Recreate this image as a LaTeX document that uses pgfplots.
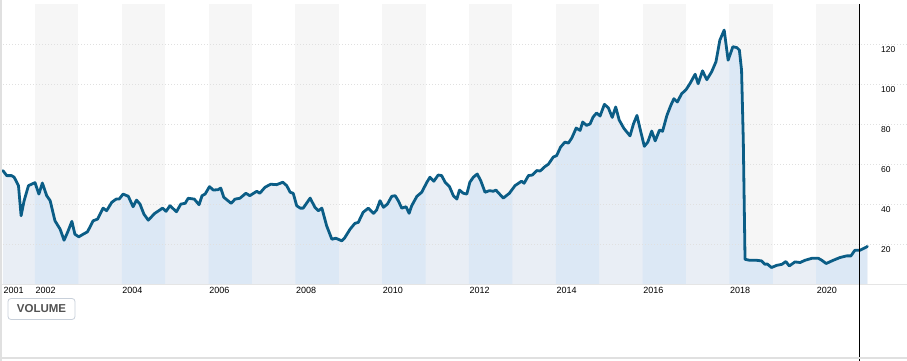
\documentclass[border=0pt]{standalone}
\usepackage{fontspec}
\setmainfont{Liberation Sans}
\usepackage{pgfplots}
\usepackage{pgfplotstable}
\pgfplotsset{compat=1.18}
\usepgfplotslibrary{fillbetween}
\definecolor{linec}{HTML}{0B5D86}
\definecolor{evenblue}{HTML}{DCE8F5}
\definecolor{oddblue}{HTML}{E9EEF5}
\definecolor{topgray}{HTML}{F6F6F6}
\definecolor{gridc}{HTML}{E0E0E0}
\definecolor{btnborder}{HTML}{C8D0DA}

\pgfplotstableread{
year value
2001.26 57
2001.35 54.5
2001.46 54.5
2001.52 53.7
2001.62 49.5
2001.68 34.5
2001.75 42
2001.85 49.5
2002.00 51
2002.09 45.3
2002.17 50.8
2002.27 44.5
2002.35 42
2002.46 32
2002.58 27.8
2002.67 22.3
2002.75 26.2
2002.85 31.7
2002.92 25.3
2003.01 24
2003.11 25.3
2003.21 26.5
2003.34 32
2003.44 32.8
2003.57 38.3
2003.65 37
2003.77 41.2
2003.87 42.8
2003.94 42.8
2004.03 45.3
2004.15 44.2
2004.26 39
2004.34 42.3
2004.42 40.3
2004.51 35.3
2004.61 32.3
2004.76 35.7
2004.94 38.3
2005.02 36.7
2005.11 39.5
2005.26 36.5
2005.36 40.3
2005.46 40.7
2005.53 43.2
2005.67 42.8
2005.78 40
2005.85 44.5
2005.92 45.3
2006.02 49
2006.11 47.3
2006.22 47.5
2006.28 48.3
2006.35 43.7
2006.52 40.7
2006.61 42.8
2006.72 43.2
2006.86 45.7
2006.95 44.5
2007.11 46.7
2007.18 45.7
2007.30 48.7
2007.43 50.2
2007.57 50
2007.71 51.2
2007.80 49.5
2007.88 46.2
2007.95 45.7
2008.03 39.5
2008.11 38.3
2008.18 38.3
2008.34 43.3
2008.45 38.7
2008.53 37
2008.61 38.3
2008.72 29.5
2008.84 22.8
2008.93 23.3
2009.07 22
2009.13 23.3
2009.26 27.8
2009.37 30.7
2009.45 31.2
2009.56 36.2
2009.68 38.3
2009.80 35.7
2009.87 37.3
2009.95 42
2010.03 38.7
2010.12 40.3
2010.22 44.2
2010.30 44.5
2010.37 42
2010.45 38.3
2010.55 39
2010.62 35.7
2010.68 39.5
2010.80 44.2
2010.91 46.2
2011.03 51.2
2011.10 53.7
2011.19 51.7
2011.29 54.8
2011.37 54.5
2011.45 51.2
2011.55 49
2011.64 44.5
2011.72 42.8
2011.78 47.3
2011.87 45.7
2011.95 45.3
2012.02 51.2
2012.10 53.7
2012.19 55.3
2012.27 52
2012.37 46.2
2012.47 47
2012.56 46.7
2012.62 47.3
2012.79 43.3
2012.93 45.7
2013.06 49.5
2013.21 51.7
2013.27 50.7
2013.37 54.5
2013.46 54.8
2013.56 57
2013.64 56.8
2013.75 59
2013.83 60.2
2013.94 63.7
2014.02 64.5
2014.11 68.7
2014.21 71.2
2014.29 70.7
2014.37 73.3
2014.47 78.2
2014.56 77
2014.62 81.2
2014.71 79.5
2014.79 80.3
2014.86 83.7
2014.94 85.7
2015.02 84.2
2015.12 90
2015.21 88.3
2015.30 83.5
2015.38 88.7
2015.46 82.2
2015.57 78
2015.71 74.3
2015.79 80.3
2015.87 84.5
2015.94 78
2016.04 69.1
2016.12 71.2
2016.21 76.7
2016.29 71.8
2016.39 77.2
2016.46 76.6
2016.56 84.5
2016.65 89.5
2016.72 92.8
2016.80 91.2
2016.90 95.3
2017.00 97.3
2017.09 100.3
2017.21 105
2017.28 100.3
2017.38 106.7
2017.48 102.3
2017.59 106.2
2017.69 111.2
2017.78 122
2017.88 127
2017.97 112
2018.08 118.7
2018.17 118.3
2018.23 117
2018.28 107
2018.32 72
2018.36 12.8
2018.47 12.3
2018.63 12.3
2018.74 12
2018.82 10.3
2018.87 10.5
2018.97 8.7
2019.09 9.8
2019.21 10.3
2019.30 11.7
2019.38 9.5
2019.51 11.5
2019.63 11.2
2019.74 12.3
2019.90 13.3
2020.05 13.3
2020.13 12.3
2020.23 10.7
2020.39 12.3
2020.55 13.7
2020.70 14.5
2020.80 14.5
2020.89 17.3
2021.01 17.3
2021.09 18.2
2021.18 19.2
}\datatable

\begin{document}
\begin{tikzpicture}[x=1pt,y=1pt]
\begin{axis}[
  at={(0,0)}, anchor=south west,
  scale only axis, width=907pt, height=281pt,
  xmin=2001.194, xmax=2022.092, ymin=0, ymax=140,
  clip=false,
  axis line style={draw=none},
  tick style={draw=none},
  major tick length=0pt,
  xtick={2001.26,2002,2004,2006,2008,2010,2012,2014,2016,2018,2020},
  xticklabels={2001,2002,2004,2006,2008,2010,2012,2014,2016,2018,2020},
  xticklabel style={anchor=north west, inner sep=0pt, yshift=-2.5pt, xshift=0.5pt, font=\fontsize{9}{10}\selectfont},
  ytick={20,40,60,80,100,120},
  yticklabel pos=right,
  yticklabel style={anchor=north west, inner sep=0pt, xshift=-26pt, yshift=-2pt, font=\fontsize{8.5}{10}\selectfont},
  /pgf/number format/assume math mode=true,
]
% top bands (even years)
\fill[topgray] (axis cs:2002,0) rectangle (axis cs:2003,140);
\fill[topgray] (axis cs:2004,0) rectangle (axis cs:2005,140);
\fill[topgray] (axis cs:2006,0) rectangle (axis cs:2007,140);
\fill[topgray] (axis cs:2008,0) rectangle (axis cs:2009,140);
\fill[topgray] (axis cs:2010,0) rectangle (axis cs:2011,140);
\fill[topgray] (axis cs:2012,0) rectangle (axis cs:2013,140);
\fill[topgray] (axis cs:2014,0) rectangle (axis cs:2015,140);
\fill[topgray] (axis cs:2016,0) rectangle (axis cs:2017,140);
\fill[topgray] (axis cs:2018,0) rectangle (axis cs:2019,140);
\fill[topgray] (axis cs:2020,0) rectangle (axis cs:2021,140);

\addplot[name path=curve, draw=none, forget plot] table[x=year,y=value]{\datatable};
\addplot[name path=base, draw=none, forget plot] coordinates {(2001.26,0) (2021.18,0)};
\addplot[fill=oddblue, draw=none] fill between[of=curve and base, on layer=main];
\addplot[fill=evenblue, draw=none] fill between[of=curve and base, on layer=main, soft clip={domain=2002:2003}];
\addplot[fill=evenblue, draw=none] fill between[of=curve and base, on layer=main, soft clip={domain=2004:2005}];
\addplot[fill=evenblue, draw=none] fill between[of=curve and base, on layer=main, soft clip={domain=2006:2007}];
\addplot[fill=evenblue, draw=none] fill between[of=curve and base, on layer=main, soft clip={domain=2008:2009}];
\addplot[fill=evenblue, draw=none] fill between[of=curve and base, on layer=main, soft clip={domain=2010:2011}];
\addplot[fill=evenblue, draw=none] fill between[of=curve and base, on layer=main, soft clip={domain=2012:2013}];
\addplot[fill=evenblue, draw=none] fill between[of=curve and base, on layer=main, soft clip={domain=2014:2015}];
\addplot[fill=evenblue, draw=none] fill between[of=curve and base, on layer=main, soft clip={domain=2016:2017}];
\addplot[fill=evenblue, draw=none] fill between[of=curve and base, on layer=main, soft clip={domain=2018:2019}];
\addplot[fill=evenblue, draw=none] fill between[of=curve and base, on layer=main, soft clip={domain=2020:2021.2}];

% grid lines
\draw[gridc, line width=0.8pt, dash pattern=on 1pt off 2pt] (axis cs:2001.194,20) -- (axis cs:2022.092,20);
\draw[gridc, line width=0.8pt, dash pattern=on 1pt off 2pt] (axis cs:2001.194,40) -- (axis cs:2022.092,40);
\draw[gridc, line width=0.8pt, dash pattern=on 1pt off 2pt] (axis cs:2001.194,60) -- (axis cs:2022.092,60);
\draw[gridc, line width=0.8pt, dash pattern=on 1pt off 2pt] (axis cs:2001.194,80) -- (axis cs:2022.092,80);
\draw[gridc, line width=0.8pt, dash pattern=on 1pt off 2pt] (axis cs:2001.194,100) -- (axis cs:2022.092,100);
\draw[gridc, line width=0.8pt, dash pattern=on 1pt off 2pt] (axis cs:2001.194,120) -- (axis cs:2022.092,120);
\draw[black!10, line width=1pt] (axis cs:2001.194,0) -- (axis cs:2022.092,0);

\addplot[draw=linec, line width=2.8pt, line join=round, line cap=round] table[x=year,y=value]{\datatable};

\coordinate (vl) at (axis cs:2021.0,140);
\end{axis}
\draw[black, line width=1pt] (vl) -- (vl |- 0,-76);
\draw[black!12, line width=1.5pt] (0.75,-76) -- (0.75,285);
\draw[black!12, line width=1.5pt] (0,-73) -- (907,-73);
\node[draw=btnborder, line width=0.8pt, rounded corners=3pt, fill=white,
      minimum width=67pt, minimum height=21pt, inner sep=0pt,
      text=black!68, font=\bfseries\fontsize{11.5}{12}\selectfont] at (41.5,-24) {VOLUME};
\pgfresetboundingbox
\useasboundingbox (0,-76) rectangle (907,285);
\end{tikzpicture}
\end{document}
